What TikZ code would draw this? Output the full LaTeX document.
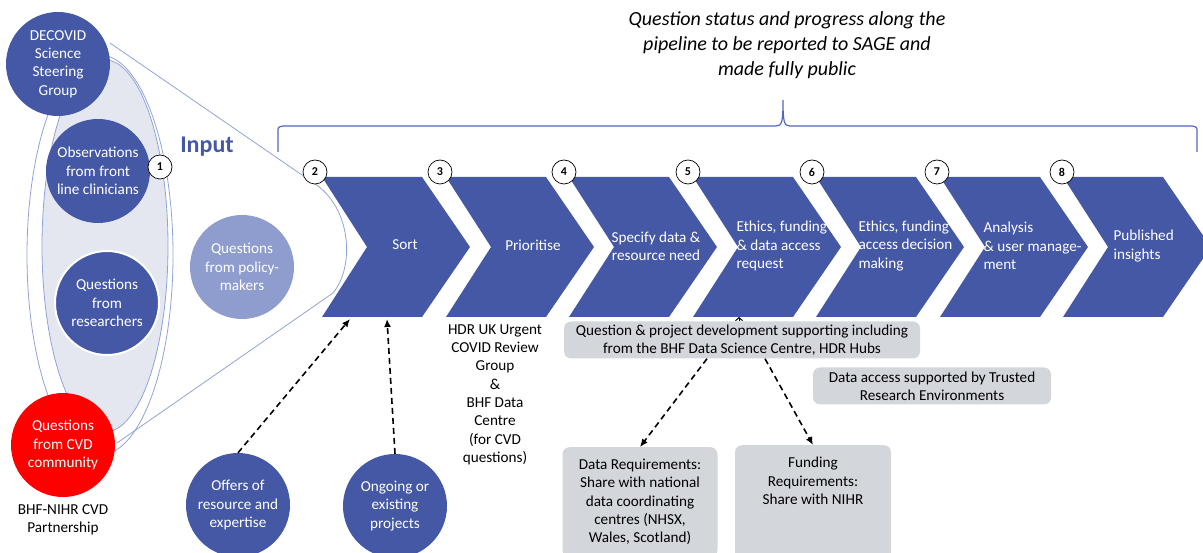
\documentclass[tikz,border=0pt]{standalone}
\usepackage{fontspec}
\setmainfont{Carlito}
\usepackage{tikz}
\usetikzlibrary{positioning,arrows.meta}

\definecolor{pipeblue}{RGB}{69,88,166}
\definecolor{policyblue}{RGB}{142,156,206}
\definecolor{cvdred}{RGB}{255,0,0}
\definecolor{boxgrey}{RGB}{211,215,220}
\definecolor{conefill}{RGB}{228,231,240}
\definecolor{coneline}{RGB}{143,163,216}
\definecolor{bracketblue}{RGB}{82,104,184}

\newcommand{\txt}{\fontsize{15.2}{18.3}\selectfont}

\begin{document}
\begin{tikzpicture}[x=1pt,y=-1pt,
  bubble/.style={circle,fill=pipeblue,text=white,minimum size=104pt,inner sep=0pt,align=center,font=\txt},
  stagenum/.style={circle,draw=black,fill=white,minimum size=24pt,inner sep=0pt,line width=0.7pt,font=\bfseries\fontsize{12}{13}\selectfont},
  stagetext/.style={text=white,align=left,anchor=west,font=\txt},
  greybox/.style={fill=boxgrey,rounded corners=7pt,align=center,font=\txt},
  dasharrow/.style={line width=1.6pt,dash pattern=on 6pt off 4pt,-{Latex[length=8pt,width=7pt]}},
  thinline/.style={draw=coneline,line width=0.8pt}
]
\useasboundingbox (0,0) rectangle (1203,553);

% pipeline chevrons
\fill[pipeblue] (322,177) -- (422,177) -- (470,247) -- (422,317) -- (322,317) -- (367,247) -- cycle;
\fill[pipeblue] (446,177) -- (546,177) -- (594,247) -- (546,317) -- (446,317) -- (491,247) -- cycle;
\fill[pipeblue] (569,177) -- (669,177) -- (717,247) -- (669,317) -- (569,317) -- (614,247) -- cycle;
\fill[pipeblue] (693,177) -- (793,177) -- (841,247) -- (793,317) -- (693,317) -- (738,247) -- cycle;
\fill[pipeblue] (816,177) -- (916,177) -- (964,247) -- (916,317) -- (816,317) -- (861,247) -- cycle;
\fill[pipeblue] (940,177) -- (1040,177) -- (1088,247) -- (1040,317) -- (940,317) -- (985,247) -- cycle;
\fill[pipeblue] (1063,177) -- (1163,177) -- (1211,247) -- (1163,317) -- (1063,317) -- (1108,247) -- cycle;

\node[text=white,font=\txt] (sort) at (405,245) {Sort};
\node[text=white,font=\txt] (prioritise) at (533,245) {Prioritise};
\node[text=white,align=center,font=\txt] (specify) at (656,246) {Specify data \&\\resource need};
\node[stagetext] (ethreq) at (733,246) {Ethics, funding\\\& data access\\request};
\node[stagetext] (ethdec) at (855,246) {Ethics, funding \&\\access decision\\making};
\node[stagetext] (analysis) at (980,246) {Analysis\\\& user manage-\\ment};
\node[stagetext] (published) at (1110,246) {Published\\insights};

% input cone
\draw[thinline] (110,43) -- (318,186) .. controls (352,212) and (354,268) .. (333,293) -- (117,443);
\draw[thinline] (100,255) ellipse [x radius=73, y radius=200];
\filldraw[fill=conefill,draw=coneline,line width=0.8pt] (105,246) ellipse [x radius=63, y radius=186];

\node[bubble] (decovid) at (58,64) {DECOVID\\Science\\Steering\\Group};
\node[bubble] (clinicians) at (98,171) {Observations\\from front\\line clinicians};
\node[bubble,draw=white,line width=2pt] (researchers) at (107,303) {Questions\\from\\researchers};
\node[bubble,fill=policyblue] (policy) at (242,267) {Questions\\from policy-\\makers};
\node[bubble,fill=cvdred] (cvd) at (63,445) {Questions\\from CVD\\community};
\node[align=center,font=\txt,below=4pt of cvd] (partnership) {BHF-NIHR CVD\\Partnership};
\node[font=\bfseries\fontsize{24}{28}\selectfont,text=pipeblue] (input) at (207,147) {Input};

\node[bubble] (offers) at (238,505) {Offers of\\resource and\\expertise};
\node[bubble] (ongoing) at (395,506) {Ongoing or\\existing\\projects};

% stage numbers
\node[stagenum] (n1) at (160,167) {1};
\node[stagenum] (n2) at (315,172) {2};
\node[stagenum] (n3) at (440,172) {3};
\node[stagenum] (n4) at (564,172) {4};
\node[stagenum] (n5) at (688,172) {5};
\node[stagenum] (n6) at (812,172) {6};
\node[stagenum] (n7) at (937,172) {7};
\node[stagenum] (n8) at (1062,172) {8};

% reporting bracket
\node[align=center,font=\itshape\fontsize{20}{24.8}\selectfont] (status) at (787,45)
  {Question status and progress along the\\pipeline to be reported to SAGE and\\made fully public};
\draw[bracketblue,line width=1.2pt] (278,152) -- (278,132) .. controls (278,127) .. (283,126) -- (776,126)
  .. controls (782,126) and (783,122) .. (783,100) .. controls (783,122) and (784,126) .. (790,126)
  -- (1192,126) .. controls (1197,127) .. (1197,132) -- (1197,152);

% review group
\node[align=center,font=\txt,anchor=north] (review) at (495,321)
  {HDR UK Urgent\\COVID Review\\Group\\\&\\BHF Data\\Centre\\(for CVD\\questions)};

% support boxes
\node[greybox,minimum width=356pt,minimum height=37pt,inner ysep=1pt] (qbox) at (742,340)
  {Question \& project development supporting including\\from the BHF Data Science Centre, HDR Hubs};
\node[greybox,minimum width=238pt,minimum height=37pt,inner ysep=1pt] (tre) at (932,386)
  {Data access supported by Trusted\\Research Environments};
\node[greybox,anchor=north,minimum width=155pt,inner ysep=12pt] (datareq) at (640,447)
  {Data Requirements:\\Share with national\\data coordinating\\centres (NHSX,\\Wales, Scotland)};
\node[greybox,anchor=north,minimum width=156pt,inner ysep=12pt,text depth=64pt] (funding) at (813,445)
  {Funding\\Requirements:\\Share with NIHR};

% inputs into the pipeline
\coordinate (sortin1) at (350,319);
\coordinate (sortin2) at (387,319);
\coordinate (ethin) at (739,317);
\draw[dasharrow] (offers.north) -- (sortin1);
\draw[dasharrow] (ongoing.north) -- (sortin2);
\draw[dasharrow] ([xshift=-35pt]qbox.south) -- (datareq.north);
\draw[dasharrow] ([xshift=23pt]qbox.south) -- (funding.north);
\draw[line width=1pt,-{Straight Barb[length=3pt,width=7pt]}] (qbox.north -| ethin) -- (ethin);
\end{tikzpicture}
\end{document}
